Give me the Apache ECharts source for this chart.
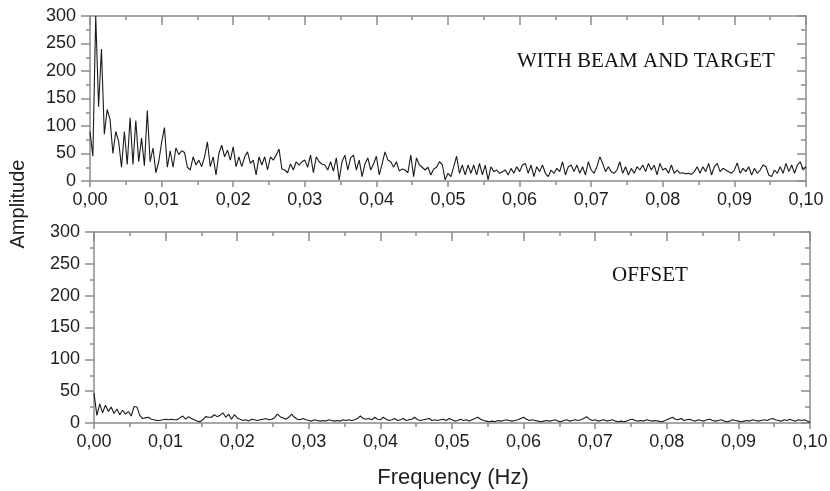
<!DOCTYPE html>
<html>
<head>
<meta charset="utf-8">
<script src="https://cdn.jsdelivr.net/npm/echarts@6/dist/echarts.min.js"></script>
<style>
  html, body { margin: 0; padding: 0; background: #fff; }
  #chart { width: 830px; height: 491px; }
</style>
</head>
<body>
<div id="chart"></div>
<script>
// frequency grid of the spectra (Hz)
const freqStep = 0.0004;

// amplitude, beam on target
const beamAmp = [
  90, 45, 300, 135, 240, 85, 130, 112, 50, 90, 72, 25, 90, 30, 115, 30, 110, 35, 78, 28,
  128, 35, 60, 15, 35, 70, 97, 25, 55, 25, 60, 48, 55, 52, 25, 20,
  44, 29, 38, 26, 44, 71, 26, 44, 11, 50, 65, 44, 56, 38, 62, 26, 44, 26, 44, 53, 32, 38, 11, 44,
  29, 44, 20, 44, 38, 47, 58, 22, 20, 15, 31, 20, 35, 29, 35, 38, 25, 47, 15, 44,
  35, 31, 29, 20, 35, 18, 42, 2, 35, 47, 20, 42, 47, 20, 38, 8, 31, 42, 20, 31,
  45, 11, 31, 53, 38, 35, 25, 35, 18, 22, 20, 15, 47, 8, 42, 29, 25, 20, 25, 11,
  22, 25, 35, 30, 2,
  14, 8, 26, 45, 14, 29, 11, 29, 14, 29, 11, 32, 11, 29, 2, 26, 17, 20, 14, 17,
  20, 11, 23, 14, 26, 17, 29, 32, 14, 29, 8, 26, 17, 29, 14, 8, 20, 14, 23, 17,
  35, 11, 26, 29, 17, 29, 14, 26, 11, 35, 20, 14, 26, 44, 32, 17, 26, 17, 14, 20,
  35, 14,
  26, 11, 23, 14, 26, 20, 29, 17, 32, 20, 29, 11, 32, 20, 23, 14, 29, 14, 20, 14,
  15, 13, 14, 12, 17, 26, 14, 26, 17, 32, 11, 26, 32, 17, 23, 20, 17, 14, 20, 33,
  14, 23,
  17, 26, 11, 23, 14, 20, 29, 26, 11, 8, 20, 14, 26, 14, 32, 17, 29, 14, 29, 35,
  20, 26
];

// amplitude, offset
const offsetAmp = [
  47, 12, 30, 16, 28, 18, 25, 15, 22, 13, 20, 14, 18, 11, 26, 25, 12, 7, 8, 9,
  6, 5, 4, 4, 5, 6, 5, 6, 5, 5, 8, 11, 6, 10, 7, 5, 3, 2, 5, 10,
  9, 9, 13, 10, 12, 16, 9, 14, 6, 13, 8,
  6, 4, 5, 3, 6, 5, 4, 5, 6, 7, 5, 6, 8, 14, 10, 8, 6, 9, 14, 9,
  6, 5, 7, 5, 4, 3, 5, 4, 3, 4, 3, 5, 4, 3, 4, 3, 5, 4, 5, 4,
  5, 7, 11, 7, 6, 7, 5, 9, 6, 5, 9, 6, 4, 5, 7, 4, 5, 7, 4, 5,
  6, 9, 5, 4, 5, 6, 7, 4, 5, 4, 5, 6, 4, 7,
  5, 3, 4, 6, 4, 5, 3, 5, 7, 9, 6, 4, 3, 2, 3, 2, 4, 3, 4, 5,
  4, 3, 4, 5, 7, 9, 6, 4, 5, 4, 3, 2, 3, 4, 3, 4, 5, 3, 2, 4,
  5, 3, 4, 5, 4, 5, 7, 10, 6, 4, 5, 3, 4, 5, 3, 4, 5, 3, 2, 3,
  2, 3, 5, 6, 4, 3, 4, 3, 5, 4, 3, 4, 3, 2, 3, 5, 7, 9, 6, 5,
  7, 4, 5, 6, 4, 3, 5, 4, 3, 5, 6, 4, 3, 4, 5, 3, 2, 3, 5, 4,
  3, 2, 3, 4, 3, 5, 4, 3, 4, 5, 4, 6, 7, 5, 4, 3, 5, 4, 6, 4,
  3, 5, 4, 5, 3, 1
];

const xTicks = [0, 0.1, 0.01];   // min, max, step
const yTicks = [0, 300, 50];

const panelTitles = ['WITH BEAM AND TARGET', 'OFFSET'];

const axisGray = '#8c8c8c';
const textColor = '#1e1e1e';
const sansFont = '"Liberation Sans", Arial, sans-serif';
const serifFont = '"Liberation Serif", "Times New Roman", serif';

const toPairs = arr => arr.map((v, i) => [+(i * freqStep).toFixed(4), v]);

function xAxisPair(gridIndex) {
  const base = {
    gridIndex,
    type: 'value',
    min: xTicks[0],
    max: xTicks[1],
    interval: xTicks[2],
    splitLine: { show: false },
    axisLine: { show: true, onZero: false, lineStyle: { color: axisGray, width: 1.5 } }
  };
  return [
    {
      ...base,
      position: 'bottom',
      axisTick: { show: true, inside: false, length: 6, lineStyle: { color: axisGray, width: 1.5 } },
      minorTick: { show: true, splitNumber: 2, length: 4, lineStyle: { color: axisGray, width: 1.5 } },
      axisLabel: {
        margin: 10,
        color: textColor,
        fontFamily: sansFont,
        fontSize: 18,
        formatter: v => v.toFixed(2).replace('.', ',')
      }
    },
    {
      ...base,
      position: 'top',
      axisTick: { show: true, inside: true, length: 9, lineStyle: { color: axisGray, width: 1.5 } },
      minorTick: { show: true, splitNumber: 2, length: 4, lineStyle: { color: axisGray, width: 1.5 } },
      axisLabel: { show: false }
    }
  ];
}

function yAxisPair(gridIndex) {
  const base = {
    gridIndex,
    type: 'value',
    min: yTicks[0],
    max: yTicks[1],
    interval: yTicks[2],
    splitLine: { show: false },
    axisLine: { show: true, onZero: false, lineStyle: { color: axisGray, width: 1.5 } }
  };
  return [
    {
      ...base,
      position: 'left',
      axisTick: { show: true, inside: false, length: 9, lineStyle: { color: axisGray, width: 1.5 } },
      minorTick: { show: true, splitNumber: 2, length: 4, lineStyle: { color: axisGray, width: 1.5 } },
      axisLabel: { margin: 14, color: textColor, fontFamily: sansFont, fontSize: 18 }
    },
    {
      ...base,
      position: 'right',
      axisTick: { show: true, inside: true, length: 9, lineStyle: { color: axisGray, width: 1.5 } },
      minorTick: { show: true, splitNumber: 2, length: 5, lineStyle: { color: axisGray, width: 1.5 } },
      axisLabel: { show: false }
    }
  ];
}

const chart = echarts.init(document.getElementById('chart'), null, { renderer: 'canvas' });

const lineSeries = (data, idx) => ({
  type: 'line',
  xAxisIndex: idx * 2,
  yAxisIndex: idx * 2,
  data,
  showSymbol: false,
  symbol: 'none',
  clip: true,
  lineStyle: { color: '#1a1a1a', width: 1.1 },
  emphasis: { disabled: true }
});

chart.setOption({
  animation: false,
  backgroundColor: '#fff',
  grid: [
    { left: 90, top: 16, width: 716, height: 165, outerBoundsMode: 'none' },
    { left: 94, top: 232, width: 716, height: 191, outerBoundsMode: 'none' }
  ],
  xAxis: [...xAxisPair(0), ...xAxisPair(1)],
  yAxis: [...yAxisPair(0), ...yAxisPair(1)],
  series: [
    lineSeries(toPairs(beamAmp), 0),
    lineSeries(toPairs(offsetAmp), 1)
  ],
  graphic: [
    {
      type: 'text', left: 517, top: 51,
      style: { text: panelTitles[0], fill: '#111', font: '21px ' + serifFont }
    },
    {
      type: 'text', left: 612, top: 265,
      style: { text: panelTitles[1], fill: '#111', font: '21px ' + serifFont }
    },
    {
      type: 'text', x: 18, y: 204, rotation: Math.PI / 2,
      style: { text: 'Amplitude', fill: textColor, font: '20px ' + sansFont, align: 'center', verticalAlign: 'middle' }
    },
    {
      type: 'text', x: 453, y: 478,
      style: { text: 'Frequency (Hz)', fill: textColor, font: '22px ' + sansFont, align: 'center', verticalAlign: 'middle' }
    }
  ]
});
</script>
</body>
</html>
